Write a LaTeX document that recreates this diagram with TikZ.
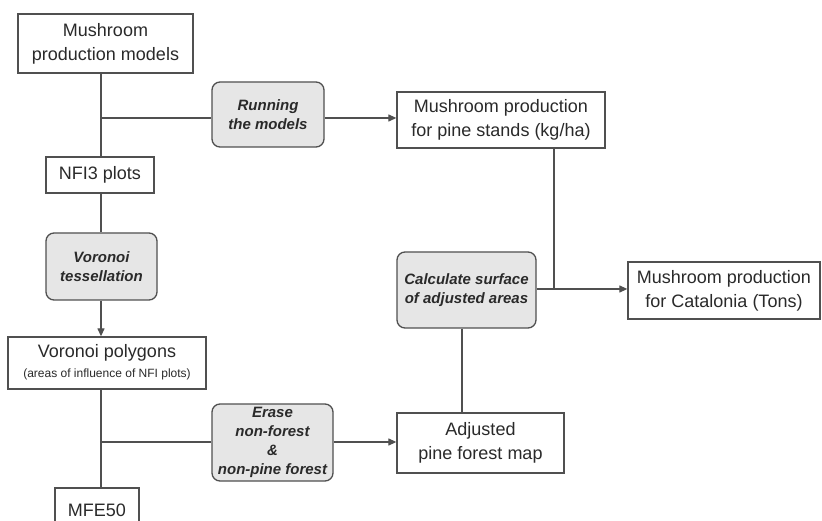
\documentclass[tikz,border=0pt]{standalone}
\usepackage{fontspec}
\setmainfont{Liberation Sans}
\usetikzlibrary{arrows.meta,calc}
\definecolor{lc}{HTML}{505050}
\definecolor{tc}{HTML}{2A2A2A}
\definecolor{gf}{HTML}{E6E6E6}
\tikzset{
  databox/.style={draw=lc, line width=1.3pt, fill=white, inner sep=0pt, align=center, text=tc,
    font=\fontsize{18}{24}\selectfont},
  procbox/.style={draw=lc, line width=1.3pt, fill=gf, rounded corners=8pt, inner sep=0pt, align=center, text=tc,
    font=\fontsize{15}{19}\selectfont\bfseries\itshape},
  conn/.style={draw=lc, line width=1.2pt},
  arr/.style={conn, -{Triangle[length=8pt,width=7pt]}}
}
\begin{document}
\begin{tikzpicture}[x=1pt,y=-1pt]
\useasboundingbox (0,0) rectangle (822,521);
\clip (0,0) rectangle (822,521);
\fill[white] (0,0) rectangle (822,521);
% nodes
\node[databox, minimum width=175pt, minimum height=59pt] (mpm) at (105.5,43.5) {\raisebox{-2pt}{\begin{tabular}{@{}c@{}}Mushroom\\production models\end{tabular}}};
\node[procbox, minimum width=112pt, minimum height=65pt] (run) at (268,114.5) {Running\\the models};
\node[databox, minimum width=208pt, minimum height=56pt] (pine) at (501,120) {\raisebox{-2pt}{\begin{tabular}{@{}c@{}}Mushroom production\\for pine stands (kg/ha)\end{tabular}}};
\node[databox, minimum width=108pt, minimum height=36pt] (nfi) at (100,175) {NFI3 plots};
\node[procbox, minimum width=111pt, minimum height=67pt] (vt) at (101.5,266.5) {Voronoi\\tessellation};
\node[databox, minimum width=198pt, minimum height=52pt] (vp) at (107,363) {\raisebox{-2pt}{\begin{tabular}{@{}c@{}}Voronoi polygons\\[-4pt]{\fontsize{12}{14}\selectfont (areas of influence of NFI plots)}\end{tabular}}};
\node[databox, minimum width=84pt, minimum height=44pt] (mfe) at (97,510) {MFE50};
\node[procbox, minimum width=121pt, minimum height=77pt] (erase) at (272.5,442.5) {\raisebox{-4pt}{\begin{tabular}{@{}c@{}}Erase\\non-forest\\\&\\non-pine forest\end{tabular}}};
\node[databox, minimum width=167pt, minimum height=60pt] (adj) at (480.5,443) {\raisebox{-2pt}{\begin{tabular}{@{}c@{}}Adjusted\\pine forest map\end{tabular}}};
\node[procbox, minimum width=139pt, minimum height=76pt] (calc) at (466.5,290) {Calculate surface\\of adjusted areas};
\node[databox, minimum width=192pt, minimum height=57pt] (cat) at (724,290.5) {\raisebox{-2pt}{\begin{tabular}{@{}c@{}}Mushroom production\\for Catalonia (Tons)\end{tabular}}};
% junctions
\coordinate (j1) at (101,118);
\coordinate (j2) at (101,442);
\coordinate (j3) at (554,289);
\coordinate (c4) at (462,0);
% connectors
\draw[conn] (mpm.south -| j1) -- (nfi.north -| j1);
\draw[conn] (j1) -- (j1 -| run.west);
\draw[arr] (run.east |- j1) -- (pine.west |- j1);
\draw[conn] (nfi.south -| j1) -- (vt.north -| j1);
\draw[arr] (vt.south -| j1) -- (vp.north -| j1);
\draw[conn] (vp.south -| j1) -- (mfe.north -| j1);
\draw[conn] (j2) -- (j2 -| erase.west);
\draw[arr] (erase.east |- j2) -- (adj.west |- j2);
\draw[conn] (calc.south -| c4) -- (adj.north -| c4);
\draw[conn] (pine.south -| j3) -- (j3);
\draw[arr] (calc.east |- j3) -- (cat.west |- j3);
\end{tikzpicture}
\end{document}
